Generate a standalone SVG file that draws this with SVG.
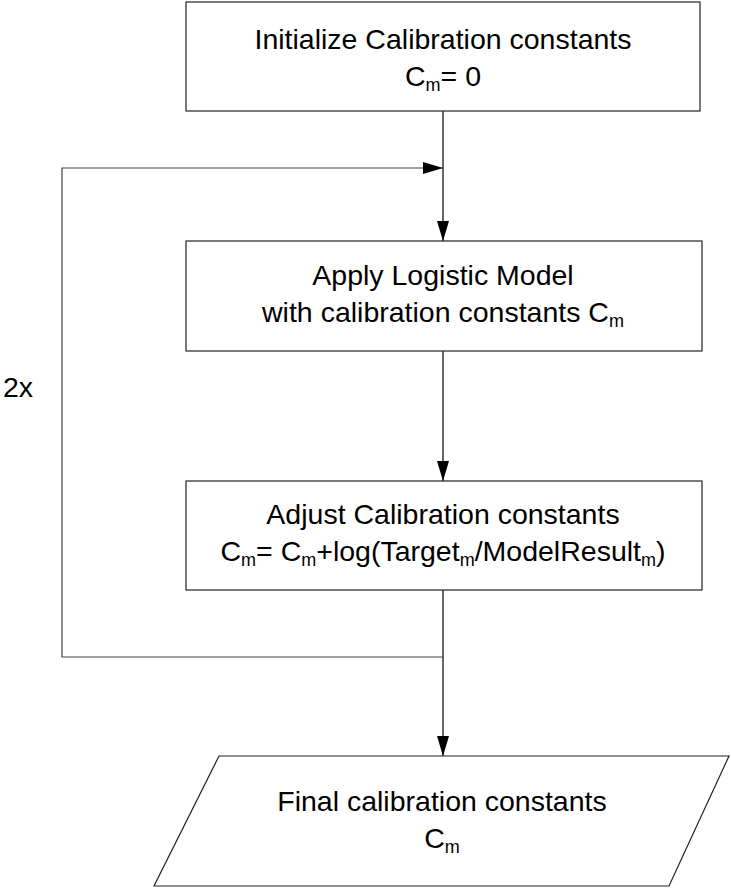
<svg xmlns="http://www.w3.org/2000/svg" width="731" height="888" viewBox="0 0 731 888">
<style>
.box{fill:#fff;stroke:#222;stroke-width:1.2}
.t{font-family:"Liberation Sans",Arial,sans-serif;font-size:28.5px;fill:#000;text-anchor:middle}
.s{font-size:18px}
.c{fill:none;stroke:#000;stroke-width:1.2}
.loop{fill:none;stroke:#444;stroke-width:1.2}
</style>
<defs>
<marker id="ah" markerUnits="userSpaceOnUse" markerWidth="21" markerHeight="13" refX="20" refY="6" orient="auto">
<path d="M0,0 L20,6 L0,12 z" fill="#000"/>
</marker>
</defs>
<rect width="731" height="888" fill="#fff"/>
<g id="connectors">
<path class="c" d="M443,111 V241" marker-end="url(#ah)"/>
<path class="c" d="M443,351 V481" marker-end="url(#ah)"/>
<path class="c" d="M443,590 V756" marker-end="url(#ah)"/>
<path class="loop" d="M443,657 H62 V168 H443" marker-end="url(#ah)"/>
<text class="t" x="18" y="397">2x</text>
</g>
<g id="init">
<rect class="box" x="186" y="2" width="514" height="109"/>
<text class="t" x="443" y="49">Initialize Calibration constants</text>
<text class="t" x="443" y="86">C<tspan class="s" dy="5">m</tspan><tspan dy="-5">= 0</tspan></text>
</g>
<g id="apply">
<rect class="box" x="186" y="241" width="516" height="110"/>
<text class="t" x="443" y="285">Apply Logistic Model</text>
<text class="t" x="443" y="322">with calibration constants C<tspan class="s" dy="5">m</tspan></text>
</g>
<g id="adjust">
<rect class="box" x="186" y="481" width="516" height="109"/>
<text class="t" x="443" y="524">Adjust Calibration constants</text>
<text class="t" x="443" y="561">C<tspan class="s" dy="5">m</tspan><tspan dy="-5">= C</tspan><tspan class="s" dy="5">m</tspan><tspan dy="-5">+log(Target</tspan><tspan class="s" dy="5">m</tspan><tspan dy="-5">/ModelResult</tspan><tspan class="s" dy="5">m</tspan><tspan dy="-5">)</tspan></text>
</g>
<g id="final">
<polygon class="box" points="219,756 729,756 669,886 154,886"/>
<text class="t" x="442" y="811">Final calibration constants</text>
<text class="t" x="442" y="848">C<tspan class="s" dy="5">m</tspan></text>
</g>
</svg>
